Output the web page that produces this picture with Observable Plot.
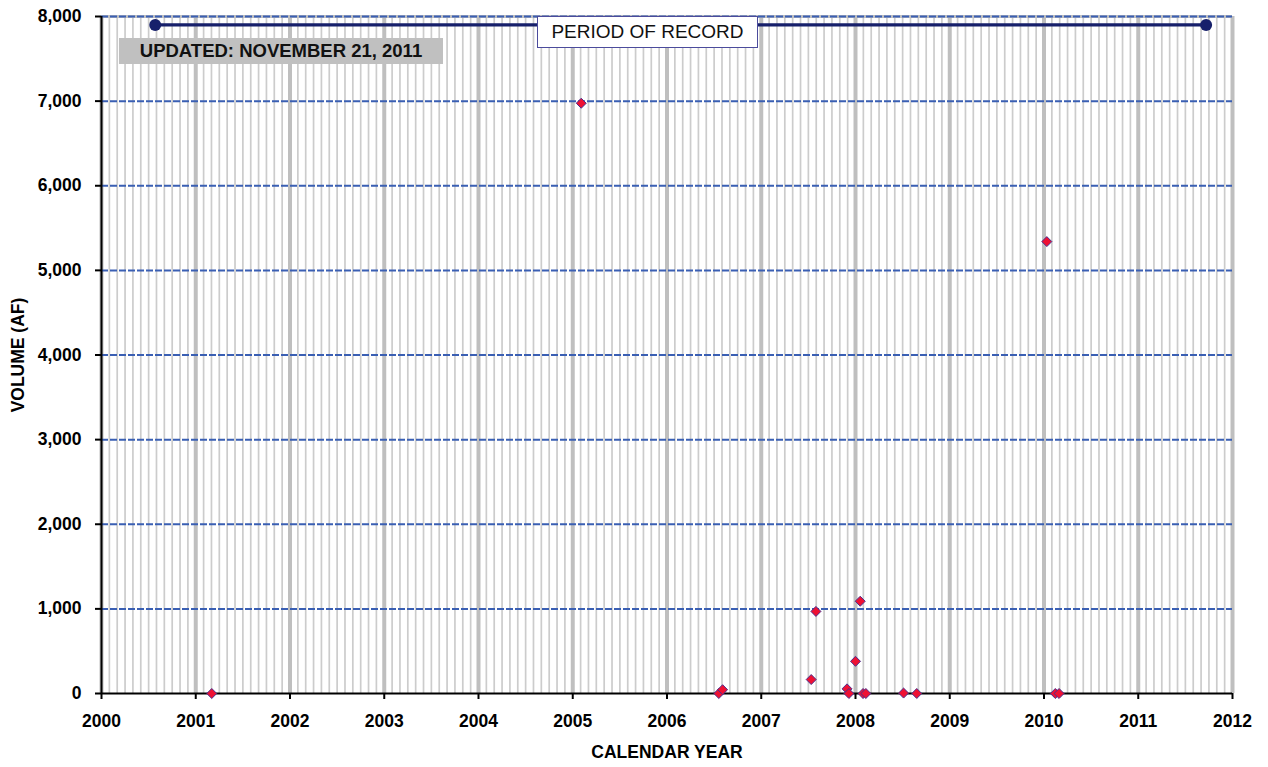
<!DOCTYPE html>
<html>
<head>
<meta charset="utf-8">
<script src="https://cdn.jsdelivr.net/npm/d3@7"></script>
<script src="https://cdn.jsdelivr.net/npm/@observablehq/plot@0.6"></script>
<style>
  body { margin: 0; background: white; }
  #wrap { position: relative; width: 1268px; height: 767px; font-family: "Liberation Sans", Arial, sans-serif; }
  .note { position: absolute; box-sizing: border-box; display: flex; align-items: center; justify-content: center; color: #111; white-space: nowrap; }
  #period { left: 537px; top: 16px; width: 221px; height: 32px; background: white; border: 1.5px solid #4b4b9c; font-size: 19px; }
  #updated { left: 119px; top: 38px; width: 324px; height: 26px; background: #c0c0c0; font-size: 18.5px; font-weight: bold; }
</style>
</head>
<body>
<div id="wrap">
  <div id="chart"></div>
  <div class="note" id="period">PERIOD OF RECORD</div>
  <div class="note" id="updated">UPDATED: NOVEMBER 21, 2011</div>
</div>
<script>
// Data (decimal calendar year, volume in acre-feet)
const dates   = [2001.17, 2005.09, 2006.55, 2006.59, 2007.53, 2007.58, 2007.91, 2007.93, 2008.00, 2008.05, 2008.08, 2008.11, 2008.51, 2008.65, 2010.03, 2010.12, 2010.16];
const volumes = [0, 6975, 0, 45, 165, 970, 55, 0, 380, 1090, 0, 0, 5, 0, 5340, 0, 0];
const periodStart = 2000.57;
const periodEnd = 2011.72;
const periodLevel = 7900;
const yearTicks = [2000, 2001, 2002, 2003, 2004, 2005, 2006, 2007, 2008, 2009, 2010, 2011, 2012];
const volumeTicks = [0, 1000, 2000, 3000, 4000, 5000, 6000, 7000, 8000];

const points = dates.map((d, i) => ({date: d, volume: volumes[i]}));
const period = [{date: periodStart, volume: periodLevel}, {date: periodEnd, volume: periodLevel}];
const months = d3.range(0, 12 * 12 + 1).map(m => 2000 + m / 12);

const chart = Plot.plot({
  width: 1268,
  height: 767,
  marginLeft: 101,
  marginRight: 36,
  marginTop: 16,
  marginBottom: 74,
  style: {fontFamily: "'Liberation Sans', Arial, sans-serif", fontSize: "17.5px", fontWeight: "bold", color: "#000", background: "white"},
  x: {domain: [2000, 2012]},
  y: {domain: [0, 8000]},
  marks: [
    Plot.ruleX(months, {stroke: "#cccccc", strokeWidth: 1.7}),
    Plot.ruleX(yearTicks, {stroke: "#bfbfbf", strokeWidth: 4}),
    Plot.ruleY([8000], {stroke: "#bfbfbf", strokeWidth: 3}),
    Plot.ruleY(volumeTicks.filter(v => v > 0), {stroke: "#3a5fb3", strokeWidth: 2, strokeDasharray: "7,2"}),
    Plot.axisX({ticks: yearTicks, tickFormat: d => String(d), tickSize: 6, tickPadding: 15, strokeWidth: 2,
      label: "CALENDAR YEAR", labelAnchor: "center", labelOffset: 64, labelArrow: false}),
    Plot.axisY({ticks: volumeTicks, tickFormat: d3.format(","), tickSize: 6, tickPadding: 14, strokeWidth: 2,
      label: "VOLUME (AF)", labelAnchor: "center", labelOffset: 90, labelArrow: false}),
    Plot.ruleY([0], {stroke: "black", strokeWidth: 2}),
    Plot.ruleX([2000], {stroke: "black", strokeWidth: 2}),
    Plot.line(period, {x: "date", y: "volume", stroke: "#17206b", strokeWidth: 3.2}),
    Plot.dot(period, {x: "date", y: "volume", r: 6, fill: "#17206b"}),
    Plot.dot(points, {x: "date", y: "volume", symbol: "diamond2", r: 4.5, fill: "#ee1133", stroke: "#4a2f8f", strokeWidth: 1})
  ]
});
document.getElementById("chart").appendChild(chart);
</script>
</body>
</html>
